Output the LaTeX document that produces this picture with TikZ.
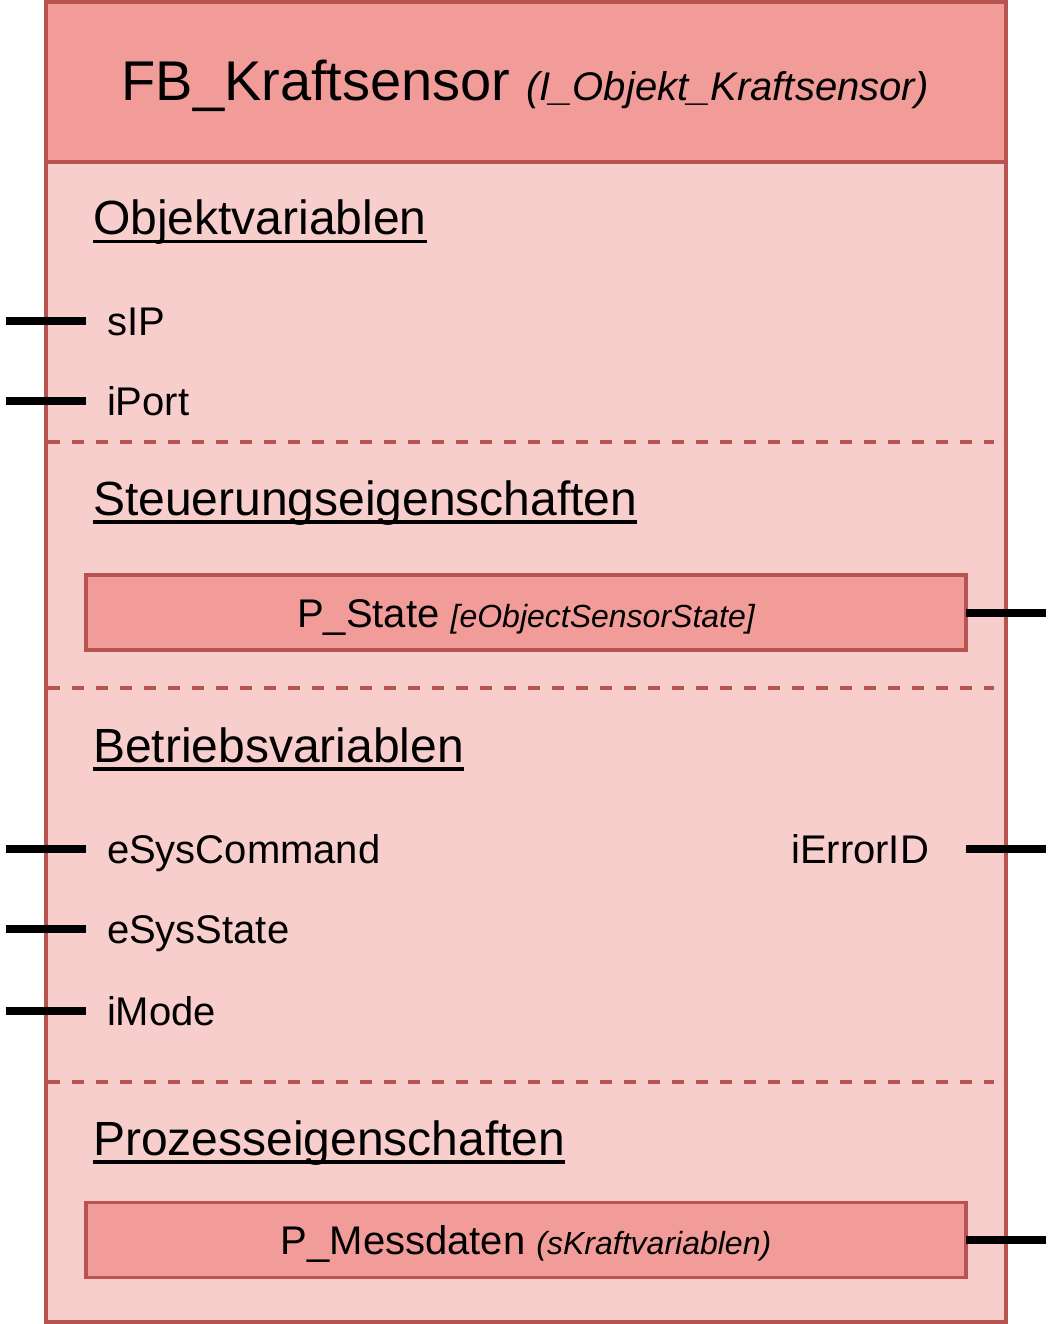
\documentclass[tikz,border=0pt]{standalone}
\usepackage{fontspec}
\setmainfont{Liberation Sans}
\usepackage{xcolor}
\usepackage{tikz}
\usetikzlibrary{calc}
\definecolor{fbhead}{HTML}{F19C99}
\definecolor{fbbody}{HTML}{F8CECC}
\definecolor{fbline}{HTML}{B85450}
\newcommand{\secul}[1]{\setbox0\hbox{#1}\rlap{\rule[-8.5pt]{\wd0}{3.5pt}}\box0}

\begin{document}
\begin{tikzpicture}[x=1pt, y=-1pt, every node/.style={inner sep=0pt, outer sep=0pt}, frame/.style={draw=fbline, line width=3.5pt}, sep/.style={draw=fbline, line width=3.5pt, dash pattern=on 12pt off 12pt}, pbox/.style={frame, fill=fbhead, minimum width=880pt, minimum height=75pt, text height=29pt, text depth=0pt, font=\fontsize{40}{48}\selectfont}, pin/.style={draw=black, line width=8pt}, item/.style={anchor=base west, text height=29pt, text depth=0pt, font=\fontsize{40}{48}\selectfont}, section/.style={anchor=base west, font=\fontsize{48}{58}\selectfont}]
  \useasboundingbox (0,0) rectangle (1052,1324);
  \node[frame, fill=fbbody, anchor=north west, minimum width=960pt, minimum height=1320pt] (fb) at (46,2) {};
  \node[frame, fill=fbhead, anchor=north west, minimum width=960pt, minimum height=160pt] (head) at (46,2) {};
  \node[anchor=base, font=\fontsize{56}{67}\selectfont] (title) at (525,101) {FB\_Kraftsensor {\fontsize{40}{48}\selectfont\itshape(I\_Objekt\_Kraftsensor)}};

  \draw[sep] (48,442) -- (994,442);
  \draw[sep] (48,688) -- (994,688);
  \draw[sep] (48,1082) -- (994,1082);

  \node[section] (objv) at (93,235) {\secul{Objektvariablen}};
  \node[section] (steuer) at (93,515) {\secul{Steuerungseigenschaften}};
  \node[section] (betrieb) at (93,762) {\secul{Betriebsvariablen}};
  \node[section] (prozess) at (93,1155) {\secul{Prozesseigenschaften}};

  \node[item] (sip) at (107,335) {sIP};
  \node[item] (iport) at (107,415) {iPort};
  \node[item] (esyscmd) at (107,863) {eSysCommand};
  \node[item] (esysstate) at (107,943) {eSysState};
  \node[item] (imode) at (107,1025) {iMode};
  \node[item, anchor=base east] (ierror) at (929,863) {iErrorID};

  \node[pbox] (pstate) at (526,612.5) {P\_State {\fontsize{32}{38}\selectfont\itshape[eObjectSensorState]}};
  \node[pbox] (pmess) at (526,1240) {P\_Messdaten {\fontsize{32}{38}\selectfont\itshape(sKraftvariablen)}};

  \draw[pin] (fb.west |- sip.west) ++(-40,0) -- ++(80,0);
  \draw[pin] (fb.west |- iport.west) ++(-40,0) -- ++(80,0);
  \draw[pin] (fb.west |- esyscmd.west) ++(-40,0) -- ++(80,0);
  \draw[pin] (fb.west |- esysstate.west) ++(-40,0) -- ++(80,0);
  \draw[pin] (fb.west |- imode.west) ++(-40,0) -- ++(80,0);
  \draw[pin] (fb.east |- ierror.east) ++(-40,0) -- ++(80,0);
  \draw[pin] (pstate.east) -- ++(80,0);
  \draw[pin] (pmess.east) -- ++(80,0);
\end{tikzpicture}
\end{document}
